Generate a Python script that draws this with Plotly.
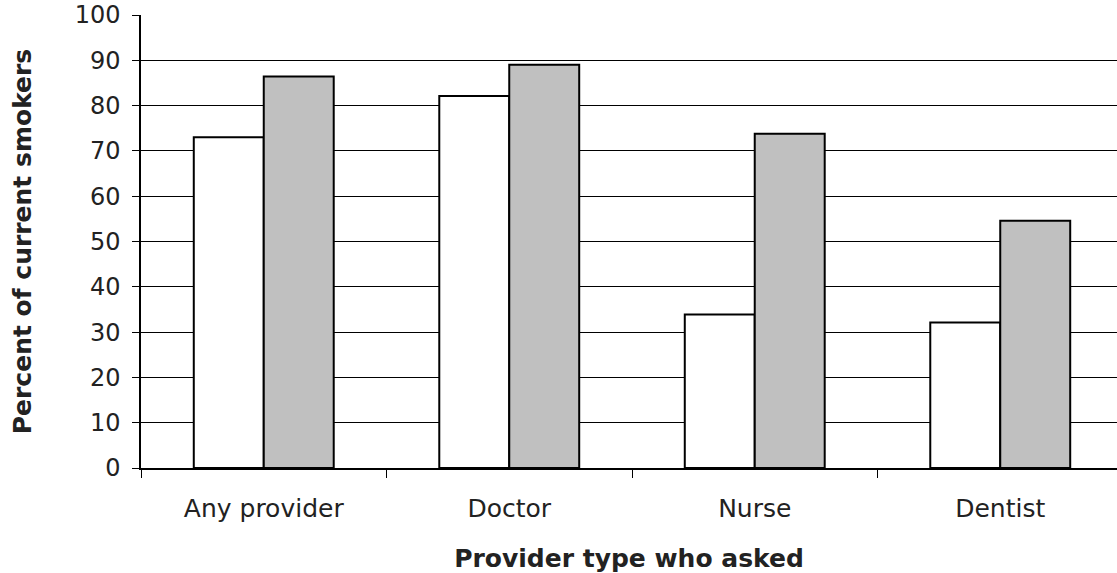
import plotly.graph_objects as go

# Percent of current smokers asked about smoking, by provider type
categories = ["Any provider", "Doctor", "Nurse", "Dentist"]
series_a = [73.0, 82.1, 33.9, 32.1]
series_b = [86.4, 89.0, 73.8, 54.6]
y_ticks = [0, 10, 20, 30, 40, 50, 60, 70, 80, 90, 100]

FONT = "DejaVu Sans"
TEXT = "#222222"

fig = go.Figure()
fig.add_trace(go.Bar(
    x=categories, y=series_a, name="A",
    marker=dict(color="#ffffff", line=dict(color="#000000", width=2)),
))
fig.add_trace(go.Bar(
    x=categories, y=series_b, name="B",
    marker=dict(color="#c0c0c0", line=dict(color="#000000", width=2)),
))

fig.update_layout(
    width=1117, height=573,
    margin=dict(l=141, r=0, t=15, b=105),
    paper_bgcolor="white", plot_bgcolor="white",
    barmode="group", bargap=0.43, bargroupgap=0,
    showlegend=False,
    font=dict(family=FONT, color=TEXT),
)

fig.update_xaxes(
    type="category",
    range=[-0.5, 3.4756],
    tickson="boundaries",
    ticks="outside", ticklen=8, tickcolor="#000000", tickwidth=1,
    ticklabelstandoff=17,
    showline=True, linecolor="#000000", linewidth=2,
    showgrid=False,
    tickfont=dict(family=FONT, size=25, color=TEXT),
    title=dict(text="<b>Provider type who asked</b>",
               font=dict(family=FONT, size=25, color=TEXT), standoff=27),
)

fig.update_yaxes(
    range=[0, 100],
    tickvals=y_ticks,
    ticks="outside", ticklen=7, tickcolor="#000000", tickwidth=1,
    ticklabelstandoff=7,
    showline=True, linecolor="#000000", linewidth=1.5,
    showgrid=True, gridcolor="#000000", gridwidth=1,
    zeroline=False,
    tickfont=dict(family=FONT, size=24, color=TEXT),
    title=dict(text="<b>Percent of current smokers</b>",
               font=dict(family=FONT, size=25, color=TEXT), standoff=36),
)

fig.write_html("out.html")
